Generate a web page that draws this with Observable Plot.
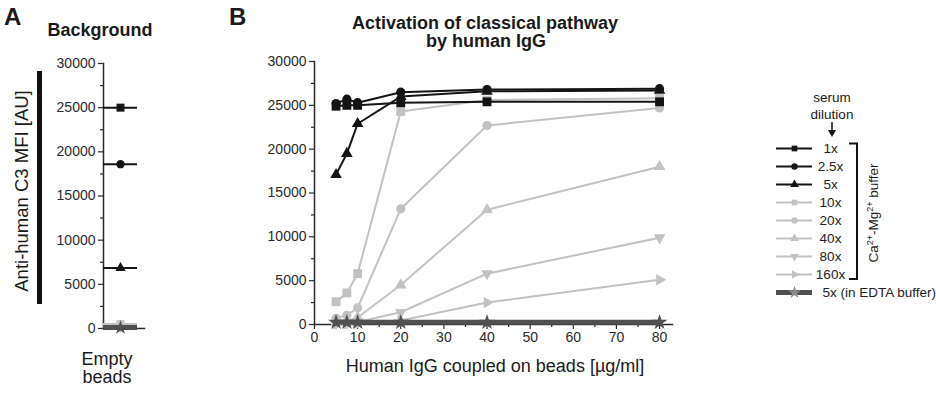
<!DOCTYPE html>
<html><head><meta charset="utf-8">
<script src="https://cdn.jsdelivr.net/npm/d3@7"></script>
<script src="https://cdn.jsdelivr.net/npm/@observablehq/plot@0.6"></script>
<style>
html,body{margin:0;padding:0;background:#fff;}
#wrap{position:relative;width:936px;height:397px;overflow:hidden;background:#fff;font-family:"Liberation Sans",Arial,sans-serif;}
#wrap > svg{position:absolute;}
</style></head><body><div id="wrap"></div>
<script>
// ---------- data ----------
const doses = [5, 7.5, 10, 20, 40, 80];                 // µg/ml human IgG on beads
const xMajorTicks = [0, 10, 20, 30, 40, 50, 60, 70, 80];
const xMinorTicks = [5, 15, 25, 35, 45, 55, 65, 75];
const yMajorTicks = [0, 5000, 10000, 15000, 20000, 25000, 30000];
const yMinorTicks = [2500, 7500, 12500, 17500, 22500, 27500];
const dilutions = ["1x", "2.5x", "5x", "10x", "20x", "40x", "80x", "160x", "5x (in EDTA buffer)"];
const c3_1x   = [24900, 25000, 25000, 25300, 25400, 25400];
const c3_2_5x = [25200, 25700, 25300, 26500, 26800, 26900];
const c3_5x   = [17100, 19500, 22900, 26000, 26600, 26700];
const c3_10x  = [2600, 3600, 5800, 24300, 25600, 25800];
const c3_20x  = [700, 1050, 1900, 13200, 22700, 24700];
const c3_40x  = [250, 400, 800, 4500, 13100, 18000];
const c3_80x  = [100, 150, 300, 1400, 5800, 9900];
const c3_160x = [50, 80, 150, 450, 2500, 5100];
const c3_edta = [250, 250, 250, 250, 250, 250];
const background = [25000, 18600, 6850, 500, 400, 300, 200, 150, 100]; // empty beads, same order as dilutions
const emptyCategory = "Empty beads";

// ---------- styles ----------
const FONT = '"Liberation Sans", Arial, sans-serif';
const BLACK = "#141414", GRAY = "#c2c2c2", DARK = "#505050", AXIS = "#2a2a2a";
const sq = Math.sqrt(3);
const triDown = {draw(c, s){const y = -Math.sqrt(s/(sq*3)); c.moveTo(0, -2*y); c.lineTo(sq*y, y); c.lineTo(-sq*y, y); c.closePath();}};
const triRight = {draw(c, s){const y = -Math.sqrt(s/(sq*3)); c.moveTo(-2*y, 0); c.lineTo(y, sq*y); c.lineTo(y, -sq*y); c.closePath();}};
const seriesValues = [c3_1x, c3_2_5x, c3_5x, c3_10x, c3_20x, c3_40x, c3_80x, c3_160x, c3_edta];
const seriesStyle = [
  {color: BLACK, symbol: "square", r: 5, w: 2},
  {color: BLACK, symbol: "circle", r: 4.6, w: 2},
  {color: BLACK, symbol: "triangle", r: 4.3, w: 2},
  {color: GRAY, symbol: "square", r: 5, w: 2},
  {color: GRAY, symbol: "circle", r: 4.6, w: 2},
  {color: GRAY, symbol: "triangle", r: 4.3, w: 2},
  {color: GRAY, symbol: triDown, r: 4.3, w: 2},
  {color: GRAY, symbol: triRight, r: 4.3, w: 2},
  {color: DARK, symbol: "star", r: 5, w: 5}
];
const series = dilutions.map((name, i) => ({
  name, ...seriesStyle[i],
  rows: doses.map((d, j) => ({dose: d, value: seriesValues[i][j]})),
  bg: {cat: emptyCategory, value: background[i]}
}));
const drawOrder = [3, 4, 5, 6, 7, 0, 1, 2, 8];
const baseStyle = {fontFamily: FONT, fontSize: "14px", color: AXIS, background: "none", overflow: "visible"};
const wrap = document.getElementById("wrap");
function place(el, left, top){ el.style.left = left + "px"; el.style.top = top + "px"; wrap.appendChild(el); }

// ---------- Panel A ----------
const marksA = [
  Plot.axisY(yMajorTicks, {tickSize: 5, tickPadding: 3, tickFormat: d => String(d), label: null, stroke: AXIS, strokeWidth: 1.2, fontSize: 14}),
  Plot.axisY(yMinorTicks, {tickSize: 3, tickFormat: () => "", label: null, stroke: AXIS, strokeWidth: 1.2}),
  Plot.axisX([emptyCategory], {tickSize: 4, tickFormat: () => "", label: null, stroke: AXIS, strokeDasharray: "1.5,1.5"}),
  Plot.frame({anchor: "left", stroke: AXIS, strokeWidth: 1.5}),
  Plot.frame({anchor: "bottom", stroke: AXIS, strokeWidth: 1.5})
];
for (const i of drawOrder) {
  const s = series[i];
  marksA.push(Plot.tickY([s.bg], {x: "cat", y: "value", stroke: s.color, strokeWidth: s.w}));
  marksA.push(Plot.dot([s.bg], {x: "cat", y: "value", symbol: s.symbol, r: s.r * 0.9, fill: s.color, stroke: "none"}));
}
const plotA = Plot.plot({
  width: 110, height: 340, marginLeft: 53, marginRight: 16, marginTop: 13, marginBottom: 62,
  style: baseStyle,
  x: {type: "band", domain: [emptyCategory], paddingInner: 0, paddingOuter: 0.09, align: 0, label: null},
  y: {domain: [0, 30000], label: null},
  marks: marksA
});
place(plotA, 50, 50);

// ---------- Panel B ----------
const marksB = [
  Plot.axisY(yMajorTicks, {tickSize: 5, tickPadding: 3, tickFormat: d => String(d), label: null, stroke: AXIS, strokeWidth: 1.2, fontSize: 14}),
  Plot.axisY(yMinorTicks, {tickSize: 3, tickFormat: () => "", label: null, stroke: AXIS, strokeWidth: 1.2}),
  Plot.axisX(xMajorTicks, {tickSize: 5, tickPadding: 3, tickFormat: d => String(d), label: null, stroke: AXIS, strokeWidth: 1.2, fontSize: 14}),
  Plot.axisX(xMinorTicks, {tickSize: 3, tickFormat: () => "", label: null, stroke: AXIS, strokeWidth: 1.2}),
  Plot.frame({anchor: "left", stroke: AXIS, strokeWidth: 1.5}),
  Plot.frame({anchor: "bottom", stroke: AXIS, strokeWidth: 1.5})
];
for (const i of drawOrder) {
  const s = series[i];
  marksB.push(Plot.line(s.rows, {x: "dose", y: "value", stroke: s.color, strokeWidth: s.w}));
  marksB.push(Plot.dot(s.rows, {x: "dose", y: "value", symbol: s.symbol, r: s.r, fill: s.color, stroke: "none"}));
}
const plotB = Plot.plot({
  width: 460, height: 340, marginLeft: 84, marginRight: 18, marginTop: 13, marginBottom: 64,
  style: baseStyle,
  x: {domain: [0, 83], label: null},
  y: {domain: [0, 30000], label: null},
  marks: marksB
});
place(plotB, 230, 48);

// ---------- Legend ----------
const marksL = [];
series.forEach((s, i) => {
  marksL.push(Plot.ruleY([s.name], {x1: () => 0, x2: () => 1, y: d => d, stroke: s.color, strokeWidth: s.w}));
  marksL.push(Plot.dot([s.name], {x: () => 0.5, y: d => d, symbol: s.symbol, r: i === 8 ? 4 : 3.2, fill: i === 8 ? "#888" : s.color, stroke: "none"}));
});
marksL.push(Plot.text(dilutions.slice(0, 8), {x: () => 1, y: d => d, text: d => d, dx: 18, textAnchor: "middle", fontSize: 13.5, fill: "#222"}));
marksL.push(Plot.text(dilutions.slice(8), {x: () => 1, y: d => d, text: d => d, dx: 10, textAnchor: "start", fontSize: 13.5, fill: "#222"}));
const legend = Plot.plot({
  width: 166, height: 170, marginLeft: 6, marginRight: 124, marginTop: 11, marginBottom: 12,
  style: baseStyle,
  x: {domain: [0, 1], axis: null},
  y: {type: "point", domain: dilutions, padding: 0, axis: null},
  marks: marksL
});
place(legend, 770, 135);

// ---------- Annotation text overlay ----------
const ns = "http://www.w3.org/2000/svg";
const ov = document.createElementNS(ns, "svg");
ov.setAttribute("width", 936); ov.setAttribute("height", 397);
ov.style.left = "0px"; ov.style.top = "0px"; ov.style.fontFamily = FONT; ov.style.pointerEvents = "none";
function txt(str, x, y, opts = {}) {
  const t = document.createElementNS(ns, "text");
  t.setAttribute("x", x); t.setAttribute("y", y);
  t.setAttribute("font-size", opts.size || 14);
  t.setAttribute("text-anchor", opts.anchor || "middle");
  if (opts.bold) t.setAttribute("font-weight", "bold");
  if (opts.rotate) t.setAttribute("transform", `rotate(-90 ${x} ${y})`);
  t.setAttribute("fill", "#1a1a1a");
  if (opts.html) t.innerHTML = str; else t.textContent = str;
  ov.appendChild(t);
}
function shape(tag, attrs) { const e = document.createElementNS(ns, tag); for (const k in attrs) e.setAttribute(k, attrs[k]); ov.appendChild(e); }
txt("A", 4, 25, {size: 24, bold: true, anchor: "start"});
txt("B", 229, 25, {size: 24, bold: true, anchor: "start"});
txt("Background", 100, 36, {size: 18, bold: true});
txt("Activation of classical pathway", 485, 28.5, {size: 18, bold: true});
txt("by human IgG", 486, 47, {size: 18, bold: true});
txt("Anti-human C3 MFI [AU]", 28, 191, {size: 18.5, rotate: true});
shape("rect", {x: 37, y: 71, width: 5, height: 233, fill: "#111"});
txt("Empty", 107, 364.5, {size: 18});
txt("beads", 107, 383, {size: 18});
txt("Human IgG coupled on beads [µg/ml]", 495, 371.5, {size: 18});
txt("serum", 832, 101.5, {size: 13.5});
txt("dilution", 832, 119, {size: 13.5});
shape("line", {x1: 832, y1: 122, x2: 832, y2: 132, stroke: "#111", "stroke-width": 1.5});
shape("path", {d: "M828,130 L836,130 L832,137 Z", fill: "#111"});
shape("path", {d: "M849,143.5 L857,143.5 L857,279 L849,279", fill: "none", stroke: "#111", "stroke-width": 2});
txt('Ca<tspan dy="-5" font-size="9">2+</tspan><tspan dy="5">-Mg</tspan><tspan dy="-5" font-size="9">2+</tspan><tspan dy="5"> buffer</tspan>', 878, 213, {size: 13.5, rotate: true, html: true});
wrap.appendChild(ov);
</script>
</body></html>
